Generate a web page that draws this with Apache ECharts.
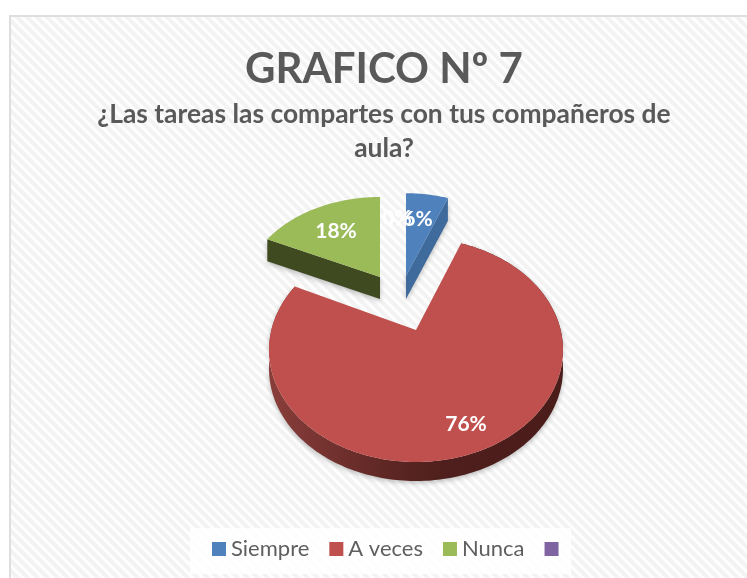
<!DOCTYPE html>
<html><head><meta charset="utf-8">
<style>html,body{margin:0;padding:0;background:#fff}#c{width:747px;height:578px}</style>
<script src="https://cdn.jsdelivr.net/npm/echarts@6/dist/echarts.min.js"></script>
</head><body><div id="c"></div>
<script>
const categories = ['Siempre', 'A veces', 'Nunca', ' '];
const values = [6, 76, 18, 0];
const labelsText = ['6%', '76%', '18%', '0%'];
const colors = ['#4F81BD', '#C0504D', '#9BBB59', '#8064A2'];
const wallColors = ['#3E6A9C', '#5A2522', '#3F4A20', '#5d4778'];

// layout of the tilted pie (not data)
const RX = 147, RY = 112, APEX_UP = 20;
const slices = [
  {x: 406, y: 294, sx: 0.93, sy: 0.9, d: 23, lx: 418, ly: 219},
  {x: 416, y: 350, sx: 1, sy: 1, d: 19, lx: 466, ly: 424},
  {x: 380, y: 294.4, sx: 0.93, sy: 0.87, d: 22, lx: 336, ly: 231},
  {x: 406, y: 294, sx: 0.93, sy: 0.9, d: 0, lx: 397, ly: 218}
];
const total = values.reduce((a, b) => a + b, 0);

function rimPoint(theta) {
  const dx = Math.sin(theta) * RX, dy = -Math.cos(theta) * RY;
  const a = dx * dx / (RX * RX) + dy * dy / (RY * RY);
  const b = -2 * dy * APEX_UP / (RY * RY);
  const c = APEX_UP * APEX_UP / (RY * RY) - 1;
  const t = (-b + Math.sqrt(b * b - 4 * a * c)) / (2 * a);
  return [dx * t, -APEX_UP + dy * t];
}

function renderSlice(idx) {
  return function (params, api) {
    const v = api.value(0);
    let before = 0;
    for (let i = 0; i < idx; i++) before += values[i];
    const a0 = before / total * Math.PI * 2, a1 = (before + v) / total * Math.PI * 2;
    const L = slices[idx];
    const P = p => [L.x + p[0] * L.sx, L.y + p[1] * L.sy];
    const apex = P([0, -APEX_UP]);
    const n = Math.max(2, Math.ceil((a1 - a0) / 0.02));
    const rim = [];
    for (let i = 0; i <= n; i++) rim.push(P(rimPoint(a0 + (a1 - a0) * i / n)));
    const children = [];
    if (v > 0) {
      const down = p => [p[0], p[1] + L.d];
      const shadow = {shadowBlur: 5, shadowColor: 'rgba(0,0,0,0.25)', shadowOffsetY: 2};
      if (idx === 1) {
        children.push({type: 'polygon', shape: {points: rim.concat(rim.slice().reverse().map(down))},
          style: Object.assign({fill: {type: 'linear', x: 0, y: 0, x2: 1, y2: 0, colorStops: [
            {offset: 0, color: '#8A3E3B'}, {offset: 0.4, color: '#5E2724'},
            {offset: 0.6, color: '#4E1F1C'}, {offset: 1, color: '#4A1C1A'}]}}, shadow)});
      } else {
        const edge = idx === 0 ? rim[n] : rim[0];
        children.push({type: 'polygon', shape: {points: [apex, edge, down(edge), down(apex)]},
          style: Object.assign({fill: wallColors[idx]}, shadow)});
      }
      children.push({type: 'polygon', shape: {points: [apex].concat(rim)}, style: {fill: colors[idx]}});
    }
    children.push({type: 'text', z2: 10, style: {
      x: L.lx, y: L.ly, text: labelsText[idx], fill: '#fff', align: 'center', verticalAlign: 'middle',
      font: 'bold 21px Lato, sans-serif'}});
    return {type: 'group', children};
  };
}

const stripe = document.createElement('canvas');
stripe.width = 10; stripe.height = 10;
(function () {
  const c = stripe.getContext('2d');
  c.fillStyle = '#fff'; c.fillRect(0, 0, 10, 10);
  [[5, '#F8F8F8'], [3, '#F2F2F2']].forEach(function (s) {
    c.strokeStyle = s[1]; c.lineWidth = s[0];
    for (let k = -10; k <= 10; k += 10) { c.beginPath(); c.moveTo(k - 2, -2); c.lineTo(k + 12, 12); c.stroke(); }
  });
})();

const chart = echarts.init(document.getElementById('c'), null, {renderer: 'canvas'});
chart.setOption({
  animation: false,
  backgroundColor: '#fff',
  graphic: [
    {type: 'rect', z: -10, shape: {x: 10, y: 16, width: 745, height: 570},
     style: {fill: {image: stripe, repeat: 'repeat'}, stroke: '#DEDEDE', lineWidth: 2}}
  ],
  title: [
    {text: 'GRAFICO Nº 7', left: 379, top: 43, textAlign: 'center',
     textStyle: {fontFamily: 'Lato, sans-serif', fontWeight: 'bold', fontSize: 42, color: '#595959'}},
    {text: '¿Las tareas las compartes con tus compañeros de\naula?', left: 379, top: 92, textAlign: 'center',
     textStyle: {fontFamily: 'Lato, sans-serif', fontWeight: 'bold', fontSize: 26.4, lineHeight: 34, color: '#595959'}}
  ],
  legend: {
    data: categories, left: 190, top: 528, padding: [10, 2, 14, 22], itemWidth: 14, itemHeight: 14, itemGap: 20,
    backgroundColor: 'rgba(255,255,255,0.85)', icon: 'rect',
    textStyle: {fontFamily: 'Lato, sans-serif', fontSize: 22, color: '#5f5f5f'}
  },
  series: categories.map((name, i) => ({
    type: 'custom', name, coordinateSystem: 'none', data: [[values[i]]],
    itemStyle: {color: colors[i]},
    renderItem: renderSlice(i), silent: true, clip: false
  }))
});
</script></body></html>
